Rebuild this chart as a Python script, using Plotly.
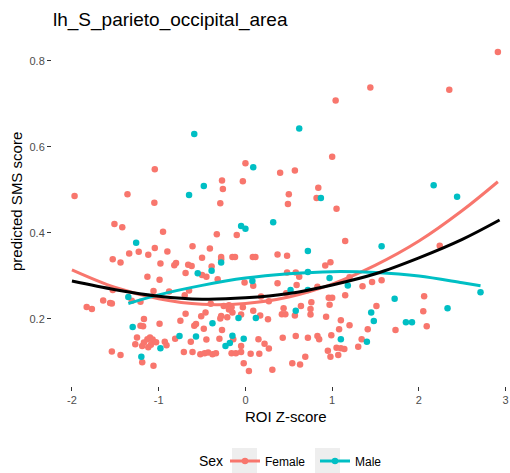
import plotly.graph_objects as go

# ---- data ----
female_x = [-1.045, 0.0, 0.40, -0.27, -0.03, -0.26, -1.97, -1.36, -1.05, -0.29, -1.51, -1.42, -0.95, -0.33, -0.10,
            2.91, 1.44, 2.35, 1.04, 1.0, 0.57, 0.84, 0.50, 0.49, 0.82, 1.05, 1.15,
            -1.34, -1.23, -1.12, -1.045, -0.90, -0.61, -0.41, -0.50, -0.28, -0.28, -0.15, -0.12, 0.085, 0.115, 0.37,
            -1.53, -1.44, -0.98, -0.82, -0.80, -0.66, -0.62, -0.39, -0.69, -1.13, -0.99, -0.50, -0.45, -0.32, -0.01,
            0.09, 0.37, -1.53, -1.06, -0.65, -0.88, -0.70, 0.18, -1.31, -1.21, -1.64, -1.56, -1.54, -1.83, -1.77,
            -0.40, -0.25, -0.19, -0.16, -0.03, 0.27, -0.69, -0.51, -0.46, -0.28, -0.29, -0.21, -0.19, -0.15, -0.05,
            0.09, 0.17, 0.26, -1.17, -1.21, -1.18, -0.99, -0.75, -0.59, -0.57, -0.48, -0.27, -1.25, -1.13, -1.10,
            -1.07, -0.81, -0.63, -0.45, -0.30, -0.14, 0.15, -0.05, 0.22, 0.27, -1.27, -1.19, -1.17, -1.12, -1.09,
            -1.03, -0.93, -0.91, -1.54, -1.44, -1.19, -1.06, -0.71, -0.61, -0.52, -0.47, -0.43, -0.38, -0.34, -0.16,
            -0.11, -0.05, 0.06, 0.16, -0.02, 0.04, 0.31,
            2.24, 0.48, 0.92, 0.98, 0.48, 0.58, 0.62, 0.59, 0.83, 1.20, 1.35, 1.46, 1.57, 0.47, 1.15, 0.96, 1.0,
            2.06, 0.76, 0.75, 0.97, 0.64, 0.44, 0.42, 0.46, 0.57, 0.75, 1.51, 2.05, 0.93, 1.10, 1.20, 1.08, 1.41,
            1.73, 2.09, 0.43, 0.58, 0.72, 0.83, 0.85, 0.99, 1.34, 0.95, 0.98, 1.05, 1.10, 1.07, 1.14, 1.30, 0.69,
            0.54, 0.63]
female_y = [0.548, 0.562, 0.540, 0.522, 0.520, 0.502, 0.486, 0.490, 0.470, 0.469, 0.421, 0.413, 0.403, 0.397, 0.395,
            0.821, 0.738, 0.733, 0.708, 0.577, 0.545, 0.505, 0.490, 0.467, 0.481, 0.456, 0.381,
            0.352, 0.356, 0.349, 0.365, 0.357, 0.369, 0.364, 0.342, 0.344, 0.339, 0.344, 0.344, 0.344, 0.344, 0.350,
            0.339, 0.331, 0.329, 0.325, 0.330, 0.326, 0.323, 0.322, 0.307, 0.298, 0.291, 0.302, 0.298, 0.292, 0.285,
            0.277, 0.283, 0.267, 0.265, 0.266, 0.264, 0.255, 0.252, 0.242, 0.240, 0.243, 0.237, 0.236, 0.228, 0.223,
            0.235, 0.230, 0.232, 0.227, 0.227, 0.241, 0.212, 0.206, 0.215, 0.207, 0.201, 0.204, 0.222, 0.215, 0.210,
            0.219, 0.208, 0.199, 0.200, 0.184, 0.183, 0.189, 0.196, 0.184, 0.188, 0.177, 0.174, 0.157, 0.153, 0.157,
            0.152, 0.154, 0.147, 0.152, 0.154, 0.153, 0.153, 0.137, 0.142, 0.131, 0.141, 0.137, 0.145, 0.134, 0.140,
            0.146, 0.147, 0.139, 0.124, 0.116, 0.099, 0.091, 0.123, 0.123, 0.118, 0.120, 0.122, 0.118, 0.120, 0.120,
            0.120, 0.123, 0.119, 0.119, 0.097, 0.079, 0.082,
            0.370, 0.347, 0.324, 0.332, 0.308, 0.308, 0.298, 0.279, 0.275, 0.297, 0.276, 0.286, 0.290, 0.260, 0.255,
            0.249, 0.249, 0.253, 0.239, 0.223, 0.233, 0.230, 0.225, 0.211, 0.211, 0.208, 0.210, 0.230, 0.218, 0.205,
            0.197, 0.185, 0.176, 0.176, 0.174, 0.183, 0.156, 0.160, 0.156, 0.160, 0.153, 0.162, 0.153, 0.126, 0.112,
            0.133, 0.132, 0.116, 0.130, 0.135, 0.112, 0.097, 0.094]

male_x = [-0.59, 0.09, -0.48, -0.65, 0.32, -0.05, 0.0, 0.62, 0.87, 2.17, 2.44, -1.26, -0.28, -0.39, -0.55, 0.08,
          -1.35, -0.08, 0.12, -1.30, -0.38, -0.57, -0.76, -0.15, -0.02, -0.18, -0.23, -0.98, -1.20, 1.57, 0.72,
          0.72, 0.97, 1.18, 0.52, 0.72, 1.72, 0.58, 1.45, 1.48, 2.33, 2.71, 1.85, 1.92, 1.10, 1.40]
male_y = [0.630, 0.553, 0.509, 0.488, 0.425, 0.416, 0.410, 0.643, 0.481, 0.511, 0.484, 0.377, 0.331, 0.312, 0.306,
          0.288, 0.251, 0.202, 0.202, 0.181, 0.190, 0.159, 0.160, 0.161, 0.154, 0.144, 0.137, 0.132, 0.112, 0.369,
          0.358, 0.309, 0.295, 0.278, 0.267, 0.267, 0.247, 0.219, 0.215, 0.195, 0.225, 0.262, 0.192, 0.192, 0.153,
          0.147]

# fitted curves
fit_female_x = [-2.0, -1.5, -1.0, -0.5, 0.0, 0.5, 1.0, 1.5, 2.0, 2.5, 2.91]
fit_female_y = [0.314, 0.273, 0.247, 0.234, 0.236, 0.251, 0.281, 0.325, 0.381, 0.452, 0.519]
fit_male_x = [-1.35, -1.0, -0.5, 0.0, 0.5, 1.0, 1.5, 2.0, 2.5, 2.71]
fit_male_y = [0.236, 0.256, 0.278, 0.295, 0.305, 0.310, 0.308, 0.300, 0.284, 0.277]
fit_all_x = [-2.0, -1.5, -1.0, -0.5, 0.0, 0.5, 1.0, 1.5, 2.0, 2.5, 2.93]
fit_all_y = [0.288, 0.268, 0.253, 0.246, 0.249, 0.259, 0.279, 0.305, 0.342, 0.385, 0.430]

x_ticks = [-2, -1, 0, 1, 2, 3]
y_ticks = [0.2, 0.4, 0.6, 0.8]

FEMALE = "#F8766D"
MALE = "#00BFC4"
FONT = "Liberation Sans, Arial, sans-serif"
W, H = 510, 473
ML, MT, MB = 52, 36, 87
PW, PH = W - ML, H - MT - MB


def px_x(p):
    return (p - ML) / PW


def px_y(p):
    return (H - MB - p) / PH


fig = go.Figure()
fig.add_trace(go.Scatter(x=female_x, y=female_y, mode="markers", showlegend=False,
                         marker=dict(color=FEMALE, size=6.5, line=dict(width=0))))
fig.add_trace(go.Scatter(x=male_x, y=male_y, mode="markers", showlegend=False,
                         marker=dict(color=MALE, size=6.5, line=dict(width=0))))
fig.add_trace(go.Scatter(x=fit_female_x, y=fit_female_y, mode="lines", showlegend=False,
                         line=dict(color=FEMALE, width=3, shape="spline")))
fig.add_trace(go.Scatter(x=fit_male_x, y=fit_male_y, mode="lines", showlegend=False,
                         line=dict(color=MALE, width=3, shape="spline")))
fig.add_trace(go.Scatter(x=fit_all_x, y=fit_all_y, mode="lines", showlegend=False,
                         line=dict(color="black", width=3, shape="spline")))
# legend entries
fig.add_trace(go.Scatter(x=[None], y=[None], mode="lines+markers", name="Female",
                         line=dict(color=FEMALE, width=3), marker=dict(color=FEMALE, size=6.5)))
fig.add_trace(go.Scatter(x=[None], y=[None], mode="lines+markers", name="Male",
                         line=dict(color=MALE, width=3), marker=dict(color=MALE, size=6.5)))

# grey legend key backgrounds
for x0 in (232, 315):
    fig.add_shape(type="rect", xref="paper", yref="paper",
                  x0=px_x(x0), x1=px_x(x0 + 25), y0=px_y(473), y1=px_y(448),
                  fillcolor="#EEEEEE", line=dict(width=0), layer="below")

fig.add_annotation(text="Sex", xref="paper", yref="paper", x=px_x(197), y=px_y(461),
                   xanchor="left", yanchor="middle", showarrow=False,
                   font=dict(size=14, color="black", family=FONT))
# axis titles
fig.add_annotation(text="ROI Z-score", xref="paper", yref="paper", x=px_x(286), y=px_y(416.5),
                   xanchor="center", yanchor="middle", showarrow=False,
                   font=dict(size=15, color="black", family=FONT))
fig.add_annotation(text="predicted SMS score", xref="paper", yref="paper", x=px_x(16.5), y=px_y(201.5),
                   xanchor="center", yanchor="middle", showarrow=False, textangle=-90,
                   font=dict(size=15, color="black", family=FONT))

fig.update_layout(
    width=W, height=H,
    margin=dict(l=ML, r=0, t=MT, b=MB, autoexpand=False),
    paper_bgcolor="white", plot_bgcolor="white",
    font=dict(family=FONT, color="black"),
    title=dict(text="lh_S_parieto_occipital_area", x=px_x(53), xref="paper", xanchor="left",
               y=1 - 19 / H, yanchor="middle", font=dict(size=19, color="black")),
    xaxis=dict(range=[-2.23, 3.05], tickvals=x_ticks, ticktext=[str(v) for v in x_ticks],
               showgrid=False, zeroline=False, showline=False, automargin=False,
               ticks="outside", ticklen=4, tickwidth=1, tickcolor="#333333",
               tickfont=dict(size=11, color="#4d4d4d", family=FONT)),
    yaxis=dict(range=[0.044, 0.858], tickvals=y_ticks, ticktext=["0.2", "0.4", "0.6", "0.8"],
               showgrid=False, zeroline=False, showline=False, automargin=False,
               ticks="outside", ticklen=4, tickwidth=1, tickcolor="#333333",
               tickfont=dict(size=11, color="#4d4d4d", family=FONT)),
    legend=dict(orientation="h", x=px_x(225), xanchor="left", y=px_y(461), yanchor="middle",
                font=dict(size=12, color="black"), itemwidth=30, entrywidth=45,
                bgcolor="rgba(0,0,0,0)"),
)

fig.write_html("out.html", config={"displayModeBar": False},
               post_script="document.body.style.margin='0';")
